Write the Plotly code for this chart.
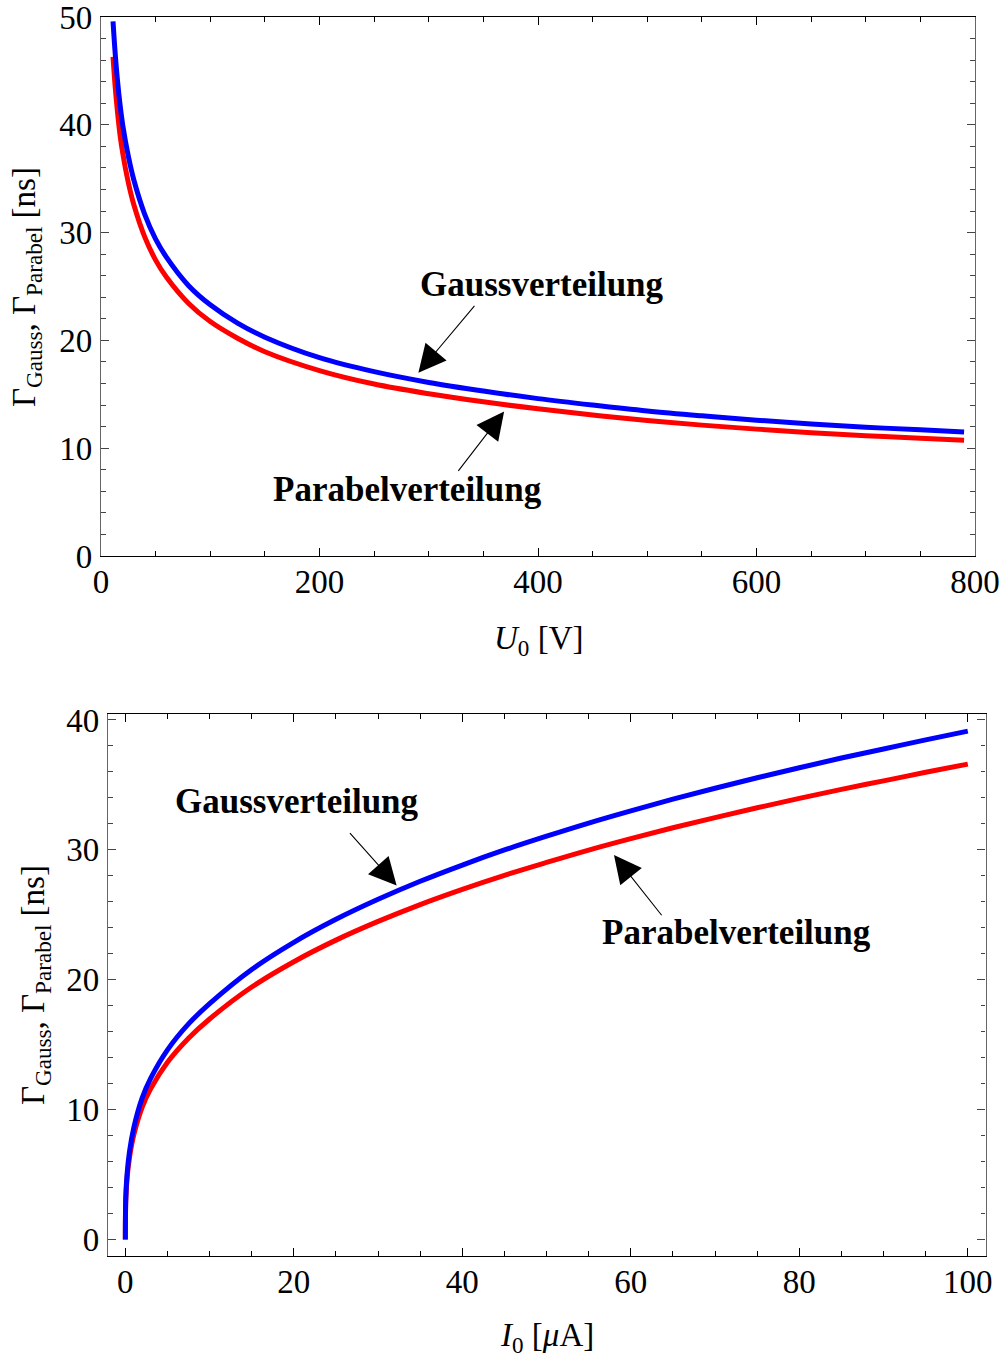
import plotly.graph_objects as go

# ---- upper panel: pulse width vs. acceleration voltage U0 ----
U0_V = [11, 13, 15, 17.5, 20, 25, 30, 40, 50, 60, 80, 100, 125, 150, 200,
        250, 300, 350, 400, 450, 500, 550, 600, 650, 700, 750, 790]
gauss_U = [49.6, 46.6, 44.2, 41.8, 39.9, 37.1, 34.9, 31.7, 29.4, 27.7, 25.1, 23.3, 21.6, 20.3, 18.4,
           17.1, 16.1, 15.3, 14.6, 14.0, 13.45, 13.0, 12.6, 12.25, 11.95, 11.7, 11.5]
parabel_U = [46.3, 43.5, 41.3, 39.0, 37.3, 34.65, 32.6, 29.6, 27.45, 25.85, 23.45, 21.75, 20.2, 18.95, 17.2,
             15.95, 15.05, 14.3, 13.65, 13.08, 12.57, 12.14, 11.77, 11.44, 11.16, 10.93, 10.74]

# ---- lower panel: pulse width vs. beam current I0 ----
I0_uA = [0, 0.05, 0.2, 0.5, 1, 2, 3, 5, 7.5, 10, 15, 20, 25, 30, 35, 40, 45, 50,
         55, 60, 65, 70, 75, 80, 85, 90, 95, 100]
gauss_I = [0, 3.2, 5.0, 6.8, 8.6, 10.9, 12.4, 14.6, 16.6, 18.16, 20.79, 22.88, 24.65, 26.19, 27.58, 28.83,
           29.99, 31.05, 32.06, 33.0, 33.9, 34.74, 35.55, 36.32, 37.07, 37.77, 38.47, 39.14]
parabel_I = [0, 3.0, 4.7, 6.35, 8.05, 10.2, 11.6, 13.65, 15.5, 16.98, 19.44, 21.39, 23.05, 24.49, 25.79, 26.96,
             28.04, 29.03, 29.98, 30.86, 31.70, 32.48, 33.24, 33.96, 34.66, 35.31, 35.97, 36.6]

W, H = 1005, 1357
SERIF = "Liberation Serif, Times New Roman, serif"
BLUE = "rgb(0,0,255)"
RED = "rgb(255,0,0)"

fig = go.Figure()

def curve(x, y, color, xa, ya):
    fig.add_trace(go.Scatter(x=x, y=y, mode="lines", xaxis=xa, yaxis=ya,
                             line=dict(color=color, width=5, shape="spline", smoothing=1.0),
                             hoverinfo="skip", showlegend=False))

curve(U0_V, parabel_U, RED, "x", "y")
curve(U0_V, gauss_U, BLUE, "x", "y")
curve(I0_uA, parabel_I, RED, "x2", "y2")
curve(I0_uA, gauss_I, BLUE, "x2", "y2")

tickfont = dict(family=SERIF, size=33, color="black")

def xaxis(domain, rng, dtick, minor, anchor):
    return dict(domain=domain, range=rng, dtick=dtick, tick0=0, anchor=anchor,
                showline=True, linecolor="black", linewidth=1.3, mirror="ticks",
                ticks="inside", ticklen=8, tickwidth=1, tickcolor="black",
                minor=dict(ticks="inside", dtick=minor, tick0=0, ticklen=4.5, tickwidth=1, tickcolor="black"),
                showgrid=False, zeroline=False, tickfont=tickfont, ticklabelstandoff=-4,
                ticklabeloverflow="allow", automargin=False, fixedrange=True)

def yaxis(domain, rng, dtick, minor, anchor):
    return dict(domain=domain, range=rng, dtick=dtick, tick0=0, anchor=anchor,
                showline=True, linecolor="#666666", linewidth=1.3, mirror="ticks",
                ticks="inside", ticklen=8, tickwidth=1, tickcolor="#444444",
                minor=dict(ticks="inside", dtick=minor, tick0=0, ticklen=4.5, tickwidth=1, tickcolor="#444444"),
                showgrid=False, zeroline=False, tickfont=tickfont, ticklabelstandoff=1,
                ticklabeloverflow="allow", automargin=False, fixedrange=True)

fig.update_layout(
    width=W, height=H, margin=dict(l=0, r=0, t=0, b=0),
    paper_bgcolor="white", plot_bgcolor="white", showlegend=False,
    xaxis=xaxis([101 / W, 975 / W], [0, 800], 200, 50, "y"),
    yaxis=yaxis([1 - 556 / H, 1 - 17 / H], [0, 50], 10, 2, "x"),
    xaxis2=xaxis([108 / W, 985.5 / W], [-2.06, 102.1], 20, 5, "y2"),
    yaxis2=yaxis([1 - 1256 / H, 1 - 714 / H], [-1.27, 40.46], 10, 2, "x2"),
)

labfont = dict(family=SERIF, size=35, color="black")
titlefont = dict(family=SERIF, size=33, color="black")

def label(text, x, y, xr, yr):
    fig.add_annotation(text="<b>" + text + "</b>", x=x, y=y, xref=xr, yref=yr,
                       showarrow=False, font=labfont, xanchor="center", yanchor="middle")

def arrow(tip, tail, xr, yr):
    fig.add_annotation(text="", x=tip[0], y=tip[1], ax=tail[0], ay=tail[1],
                       xref=xr, yref=yr, axref=xr, ayref=yr,
                       showarrow=True, arrowhead=2, arrowsize=5, arrowwidth=1.1,
                       arrowcolor="black")

# upper panel labels
label("Gaussverteilung", 403.7, 25.2, "x", "y")
arrow((290.5, 17.0), (343, 23.35), "x", "y")
label("Parabelverteilung", 281, 6.2, "x", "y")
arrow((369, 13.4), (326, 7.76), "x", "y")

# lower panel labels
label("Gaussverteilung", 20.4, 33.7, "x2", "y2")
arrow((32.2, 27.25), (26.5, 31.4), "x2", "y2")
label("Parabelverteilung", 72.6, 23.6, "x2", "y2")
arrow((58.0, 29.6), (63.8, 24.85), "x2", "y2")

# axis titles
ytitle = "Γ<sub>Gauss</sub>, Γ<sub>Parabel</sub> [ns]"
fig.add_annotation(text=ytitle, x=27 / W, y=1 - 287 / H, xref="paper", yref="paper",
                   textangle=-90, showarrow=False, font=titlefont,
                   xanchor="center", yanchor="middle")
fig.add_annotation(text=ytitle, x=35 / W, y=1 - 985 / H, xref="paper", yref="paper",
                   textangle=-90, showarrow=False, font=titlefont,
                   xanchor="center", yanchor="middle")
fig.add_annotation(text="<i>U</i><sub>0</sub> [V]", x=538 / W, y=1 - 640 / H,
                   xref="paper", yref="paper", showarrow=False, font=titlefont,
                   xanchor="center", yanchor="middle")
fig.add_annotation(text="<i>I</i><sub>0</sub> [<i>μ</i>A]", x=547 / W, y=1 - 1337 / H,
                   xref="paper", yref="paper", showarrow=False, font=titlefont,
                   xanchor="center", yanchor="middle")

fig.write_html("out.html", config=dict(displayModeBar=False))
